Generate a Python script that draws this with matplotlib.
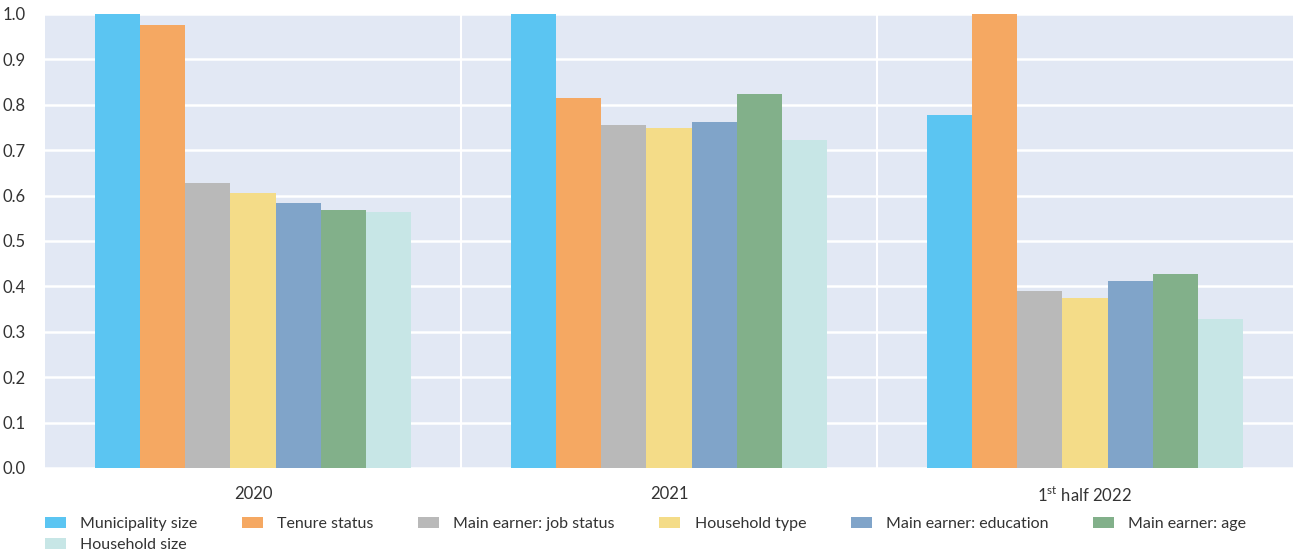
import matplotlib
matplotlib.use("Agg")
import matplotlib.pyplot as plt
import numpy as np

plt.rcParams['font.family'] = ['Lato', 'DejaVu Sans']
plt.rcParams['mathtext.fontset'] = 'custom'
plt.rcParams['mathtext.rm'] = 'Lato'

categories = ["2020", "2021", r"1$^{\mathrm{st}}$ half 2022"]
series_names = ["Municipality size", "Tenure status", "Main earner: job status",
                "Household type", "Main earner: education", "Main earner: age",
                "Household size"]
municipality = [1.0, 1.0, 0.778]
tenure = [0.976, 0.815, 1.0]
job_status = [0.628, 0.755, 0.390]
household_type = [0.606, 0.749, 0.374]
education = [0.584, 0.762, 0.412]
age = [0.568, 0.824, 0.427]
household_size = [0.564, 0.722, 0.328]
values = [municipality, tenure, job_status, household_type, education, age, household_size]
colors = ["#5BC5F2", "#F5A862", "#B9B9B9", "#F4DC88", "#80A4C9", "#82B08A", "#C7E6E6"]

fig = plt.figure(figsize=(12.93, 5.57), dpi=100)
ax = fig.add_axes([0.0348, 0.1598, 0.9652, 0.8151])
ax.set_facecolor("#E2E8F4")

x = np.arange(len(categories))
w = 0.1087
for i, (vals, c, name) in enumerate(zip(values, colors, series_names)):
    ax.bar(x + (i - 3) * w, vals, width=w, color=c, label=name, zorder=3, linewidth=0)

ax.set_xlim(-0.5, 2.5)
ax.set_ylim(0, 1.0)
ax.set_yticks(np.arange(0, 1.01, 0.1))
ax.set_yticklabels([f"{v:.1f}" for v in np.arange(0, 1.01, 0.1)])
ax.yaxis.grid(True, color="white", linewidth=1.8, zorder=1)
for s in [0.5, 1.5]:
    ax.axvline(s, color="white", linewidth=1.5, zorder=1)
ax.set_xticks(x)
ax.set_xticklabels(categories)
for sp in ax.spines.values():
    sp.set_visible(False)
ax.tick_params(axis='both', length=0, labelsize=12, colors="#333333")
ax.tick_params(axis='x', pad=13)
ax.tick_params(axis='y', pad=14)

handles, labels = ax.get_legend_handles_labels()
order = [0, 6, 1, 2, 3, 4, 5]
leg = fig.legend([handles[k] for k in order], [labels[k] for k in order],
                 loc="lower left", bbox_to_anchor=(0.0235, -0.017), ncol=6, frameon=False,
                 fontsize=11.5, handlelength=1.3, handleheight=0.65, columnspacing=2.8,
                 handletextpad=0.9, labelspacing=0.45, labelcolor="#333333")

fig.savefig("out.png", dpi=100)
